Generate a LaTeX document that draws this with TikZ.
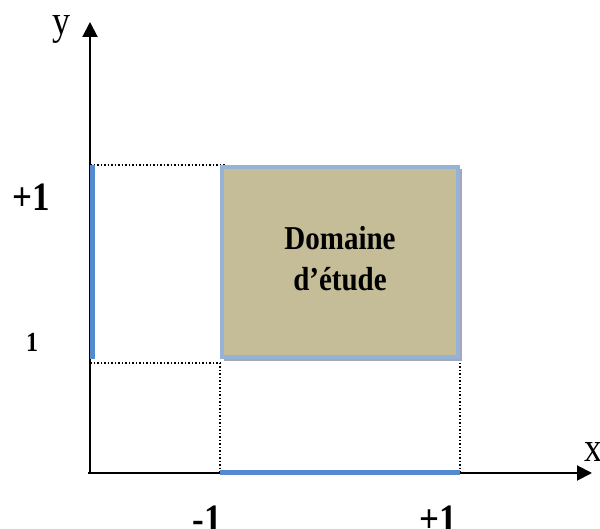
\documentclass[tikz,border=0pt]{standalone}
\usepackage{fontspec}
\setmainfont{Liberation Serif}
\usepackage{graphicx}
\usetikzlibrary{arrows.meta,shadows,backgrounds}
\definecolor{segblue}{RGB}{84,138,208}
\definecolor{edgeblue}{RGB}{150,178,214}
\definecolor{sand}{RGB}{196,189,151}
\definecolor{shade}{RGB}{160,168,185}
\newcommand{\tallbox}[1]{\scalebox{1}[1.15]{#1}}
\tikzset{
  >={Triangle[length=15pt,width=15pt]},
  axis/.style={->,line width=2pt,draw=black},
  seg/.style={line width=5pt,draw=segblue},
  guide/.style={dotted,line width=1.5pt},
  studybox/.style={draw=edgeblue,fill=sand,line width=4pt,inner sep=0pt,
    minimum width=236pt,minimum height=190pt,align=center,
    drop shadow={shadow xshift=3pt,shadow yshift=-3pt,fill=none,draw=shade,line width=2pt,opacity=1}},
  axlab/.style={font=\fontsize{36}{40}\selectfont,inner sep=0pt,anchor=base},
  ticklab/.style={font=\bfseries\fontsize{35}{40}\selectfont,inner sep=0pt,anchor=base},
}

\begin{document}
\begin{tikzpicture}[x=1pt,y=1pt]
  \useasboundingbox (0,0) rectangle (600,529);
  \clip (0,0) rectangle (600,529);
  % axes
  \coordinate (O) at (90,56);
  \coordinate (xend) at (592,56);
  \coordinate (yend) at (90,507);
  \node[studybox] (domaine) at (340,267) {\tallbox{\bfseries\fontsize{29}{36}\selectfont
    \begin{tabular}{@{}c@{}}Domaine\\d’étude\end{tabular}}};
  % guides
  \begin{scope}[on background layer]
    \draw[guide] (O |- domaine.north west) -- ([xshift=6pt]domaine.north west);
    \draw[guide] ([yshift=-4pt]O |- domaine.south west) -- ([yshift=-4pt]domaine.south west);
    \draw[guide] ([yshift=-4pt]domaine.south west) -- (domaine.south west |- O);
    \draw[guide] ([yshift=-4pt]domaine.south east) -- (domaine.south east |- O);
  \end{scope}
  \draw[axis] ([xshift=-2pt]O) -- (xend);
  \draw[axis] (O) -- (yend);
  % projections
  \draw[seg] ([xshift=2pt]O |- domaine.south west) -- ([xshift=2pt]O |- domaine.north west);
  \draw[seg] (domaine.south west |- O) -- (domaine.south east |- O);
  % labels
  \node[axlab] (ylab) at (61,494) {\tallbox{y}};
  \node[axlab] (xlab) at (593,67) {\tallbox{x}};
  \node[ticklab] (ymax) at (31,318) {\tallbox{+1}};
  \node[ticklab,font=\bfseries\fontsize{24}{28}\selectfont] (ymin) at (32,177) {\tallbox{1}};
  \node[ticklab] (xmin) at (207,-4) {\tallbox{-1}};
  \node[ticklab] (xmax) at (438,-4) {\tallbox{+1}};
\end{tikzpicture}
\end{document}
